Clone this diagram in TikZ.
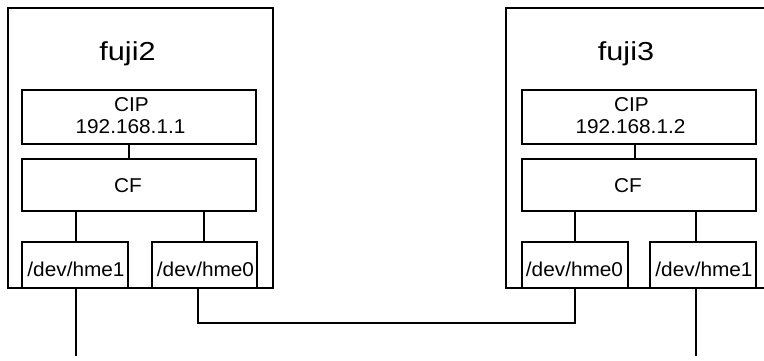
\documentclass[tikz,border=0pt]{standalone}
\usepackage{graphicx}
\usepackage{fontspec}
\setmainfont{Liberation Sans}
% horizontally widened lettering
\newcommand{\wtitle}[1]{\scalebox{1.18}[1]{#1}}
\newcommand{\wunit}[1]{\scalebox{1.04}[1]{#1}}
\begin{document}
\begin{tikzpicture}[x=1pt,y=-1pt,line width=1.5pt,
  hostbox/.style={draw,inner sep=0pt,outer sep=0pt,anchor=north west},
  unitbox/.style={draw,fill=white,inner sep=0pt,outer sep=0pt,anchor=north west},
  unitlabel/.style={font=\fontsize{20}{24}\selectfont,inner sep=0pt,anchor=base},
  hosttitle/.style={font=\fontsize{26}{31}\selectfont,inner sep=0pt,anchor=base}]
\useasboundingbox (0,0) rectangle (764,361);
\clip (0,0) rectangle (764,361);

% host fuji2
\node[hostbox,minimum width=265pt,minimum height=280pt] (hostA) at (8,8) {};
\node[hosttitle] (titleA) at (127.5,60.5) {\wtitle{fuji2}};
\node[unitbox,minimum width=234pt,minimum height=54pt] (cipA) at (22,90) {};
\node[unitlabel] (cipAname) at (131.5,111) {\wunit{CIP}};
\node[unitlabel] (cipAaddr) at (130.5,133) {\wunit{192.168.1.1}};
\node[unitbox,minimum width=234pt,minimum height=52pt] (cfA) at (22,159) {};
\node[unitlabel] (cfAname) at (128,192) {\wunit{CF}};
\node[unitbox,minimum width=106pt,minimum height=46pt] (hmeAa) at (22,242) {};
\node[unitlabel] (hmeAaname) at (76,276.5) {\wunit{/dev/hme1}};
\node[unitbox,minimum width=105pt,minimum height=46pt] (hmeAb) at (152,242) {};
\node[unitlabel] (hmeAbname) at (205.5,276.5) {\wunit{/dev/hme0}};

% host fuji3
\node[hostbox,minimum width=274pt,minimum height=280pt] (hostB) at (506,8) {};
\node[hosttitle] (titleB) at (626,60.5) {\wtitle{fuji3}};
\node[unitbox,minimum width=234pt,minimum height=54pt] (cipB) at (522,90) {};
\node[unitlabel] (cipBname) at (631.5,111) {\wunit{CIP}};
\node[unitlabel] (cipBaddr) at (630.5,133) {\wunit{192.168.1.2}};
\node[unitbox,minimum width=234pt,minimum height=52pt] (cfB) at (522,159) {};
\node[unitlabel] (cfBname) at (628,192) {\wunit{CF}};
\node[unitbox,minimum width=106pt,minimum height=46pt] (hmeBb) at (522,242) {};
\node[unitlabel] (hmeBbname) at (574.5,276.5) {\wunit{/dev/hme0}};
\node[unitbox,minimum width=106pt,minimum height=46pt] (hmeBa) at (650,242) {};
\node[unitlabel] (hmeBaname) at (704,276.5) {\wunit{/dev/hme1}};

% guide columns for the vertical links
\coordinate (colA1) at (129,0);
\coordinate (colA2) at (76,0);
\coordinate (colA3) at (204,0);
\coordinate (colA4) at (198,0);
\coordinate (colB1) at (635,0);
\coordinate (colB2) at (575,0);
\coordinate (colB3) at (696,0);

% links inside fuji2
\draw (cipA.south -| colA1) -- (cfA.north -| colA1);
\draw (cfA.south -| colA2) -- (hmeAa.north -| colA2);
\draw (cfA.south -| colA3) -- (hmeAb.north -| colA3);

% links inside fuji3
\draw (cipB.south -| colB1) -- (cfB.north -| colB1);
\draw (cfB.south -| colB2) -- (hmeBb.north -| colB2);
\draw (cfB.south -| colB3) -- (hmeBa.north -| colB3);

% private interconnect hme0 -- hme0
\coordinate (lanA) at (198,323);
\coordinate (lanB) at (575,323);
\draw (hmeAb.south -| colA4) -- (lanA) -- (lanB) -- (hmeBb.south -| colB2);

% public lines on hme1
\coordinate (pubA) at (76,356);
\coordinate (pubB) at (696,356);
\draw (hmeAa.south -| colA2) -- (pubA);
\draw (hmeBa.south -| colB3) -- (pubB);
\end{tikzpicture}
\end{document}
